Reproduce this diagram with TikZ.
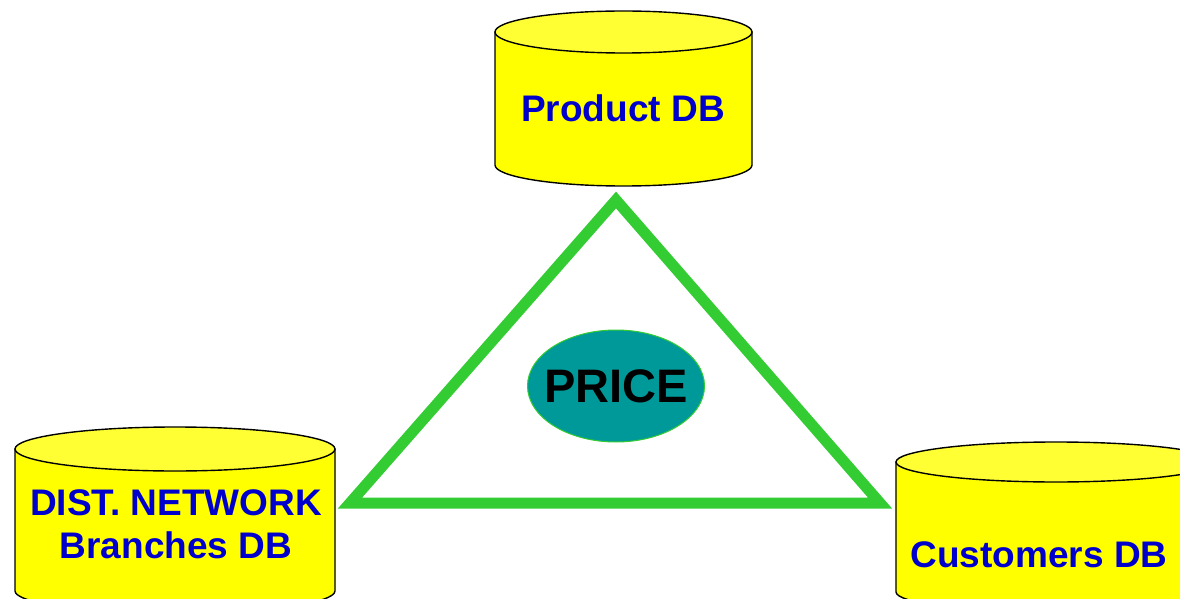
\documentclass[tikz,border=0pt]{standalone}
\usepackage{fontspec}
\setmainfont{Liberation Sans}
\definecolor{dbyellow}{RGB}{255,255,0}
\definecolor{dbtop}{RGB}{255,255,51}
\definecolor{dbblue}{RGB}{0,0,204}
\definecolor{trigreen}{RGB}{51,204,51}
\definecolor{priceteal}{RGB}{0,153,153}
\begin{document}
\begin{tikzpicture}[x=1pt,y=1pt,
  cylbody/.style={fill=dbyellow,draw=black,line width=1.4pt},
  cyltop/.style={fill=dbtop,draw=black,line width=1.4pt},
  dblabel/.style={text=dbblue,font=\fontsize{37}{43}\selectfont\bfseries,align=center,anchor=base,inner sep=0pt},
  triline/.style={draw=trigreen,line width=11pt,line join=miter},
  priceshape/.style={fill=priceteal,draw=trigreen,line width=1pt},
  pricelabel/.style={font=\fontsize{47}{56}\selectfont\bfseries,inner sep=0pt}
]
\useasboundingbox (0,0) rectangle (1180,598);
\clip (0,0) rectangle (1180,598);
% Product DB cylinder
\path[cylbody] (495,566) -- (495,433) arc[start angle=180,end angle=360,x radius=128.5pt,y radius=21pt] -- (752,566) -- cycle;
\path[cyltop] (623.5,566) ellipse[x radius=128.5pt,y radius=21pt];
\node[dblabel] (product) at (623,476) {Product DB};
% Left cylinder
\path[cylbody] (15,149) -- (15,7) arc[start angle=180,end angle=360,x radius=160pt,y radius=22pt] -- (335,149) -- cycle;
\path[cyltop] (175,149) ellipse[x radius=160pt,y radius=22pt];
\node[dblabel] (branches) at (176,40) {DIST. NETWORK\\Branches DB};
% Right cylinder
\path[cylbody] (896,136) -- (896,6) arc[start angle=180,end angle=360,x radius=160pt,y radius=20pt] -- (1216,136) -- cycle;
\path[cyltop] (1056,136) ellipse[x radius=160pt,y radius=20pt];
\node[dblabel] (customers) at (1039,31) {Customers DB};
% Triangle
\coordinate (apex) at (616,398);
\coordinate (bl) at (350,95);
\coordinate (br) at (880,95);
\draw[triline] (apex) -- (bl) -- (br) -- cycle;
% Price
\path[priceshape] (616,212) ellipse[x radius=88.5pt,y radius=56pt];
\node[pricelabel] (price) at (616,212) {PRICE};
\end{tikzpicture}
\end{document}
